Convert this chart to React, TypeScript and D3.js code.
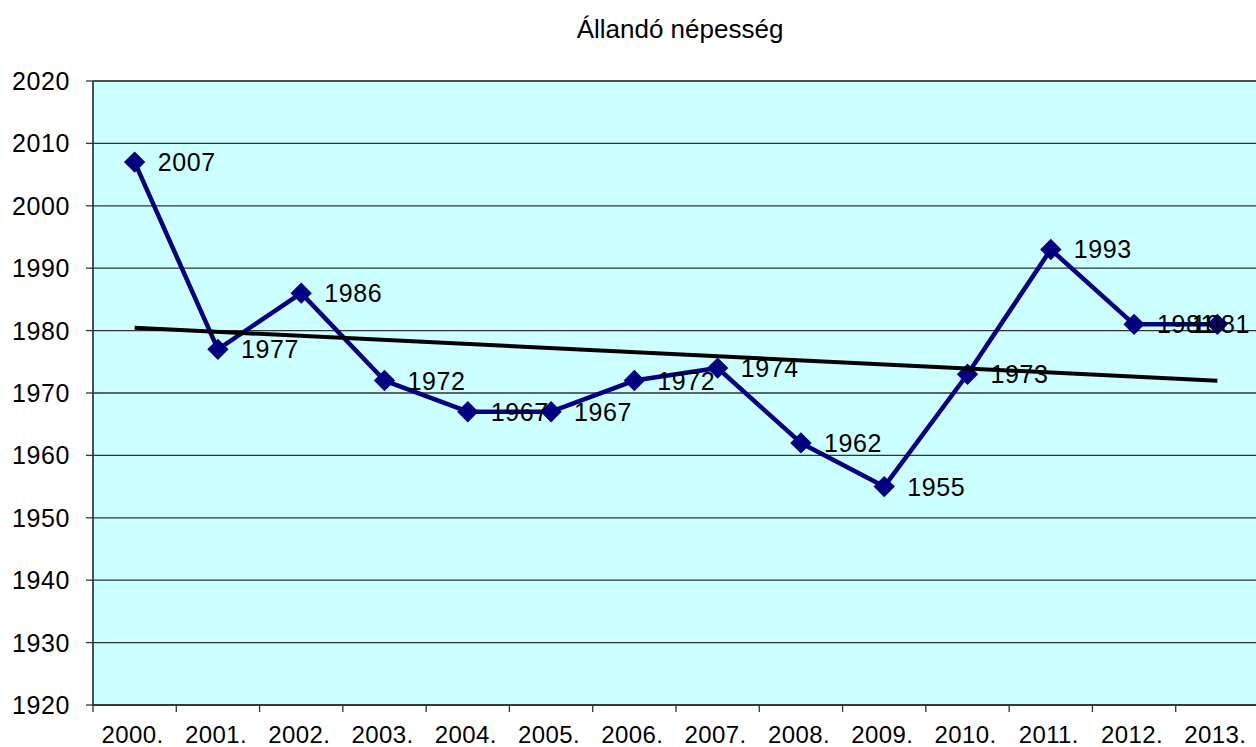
import React from 'react';
import * as d3 from 'd3';

const years = ['2000.', '2001.', '2002.', '2003.', '2004.', '2005.', '2006.', '2007.', '2008.', '2009.', '2010.', '2011.', '2012.', '2013.'];
const population = [2007, 1977, 1986, 1972, 1967, 1967, 1972, 1974, 1962, 1955, 1973, 1993, 1981, 1981];
const yTicks = [1920, 1930, 1940, 1950, 1960, 1970, 1980, 1990, 2000, 2010, 2020];
const title = 'Állandó népesség';

const W = 1256, H = 747;
const margin = {left: 93, top: 81, right: 1259, bottom: 705};
const font = 'Liberation Sans, Arial, sans-serif';

const App = () => {
    const x = d3.scaleBand<string>().domain(years).range([margin.left, margin.right]);
    const y = d3.scaleLinear().domain([1920, 2020]).range([margin.bottom, margin.top]);
    const cx = (i: number) => (x(years[i]) as number) + x.bandwidth() / 2;

    // linear trend through the points
    const n = population.length;
    const idx = d3.range(n);
    const mx = d3.mean(idx) as number, my = d3.mean(population) as number;
    const slope = d3.sum(idx, i => (i - mx) * (population[i] - my)) / d3.sum(idx, i => (i - mx) * (i - mx));
    const trend = (i: number) => my + slope * (i - mx);

    const line = d3.line<number>().x((d, i) => cx(i)).y(d => y(d));
    const diamond = d3.symbol().type(d3.symbolDiamond2).size(290)();

    // labels sit right of the point, pulled back inside the chart when they would run off
    const labelW = 60;
    const labelX = (i: number) => Math.min(cx(i) + 23, W - 4 - labelW);

    return (
        <svg width={W} height={H} style={{position: 'absolute', left: 0, top: 0}} fontFamily={font}>
            <rect x={0} y={0} width={W} height={H} fill="#fff"/>
            <text x={680} y={38} textAnchor="middle" fontSize={26} fill="#000">{title}</text>
            <rect x={margin.left} y={margin.top} width={margin.right - margin.left} height={margin.bottom - margin.top}
                  fill="#ccffff" stroke="#808080" strokeWidth={1.5}/>
            {yTicks.map(t => (
                <g key={t}>
                    <line x1={margin.left} x2={margin.right} y1={y(t)} y2={y(t)} stroke="#333" strokeWidth={1.3}/>
                    <line x1={margin.left - 7} x2={margin.left} y1={y(t)} y2={y(t)} stroke="#333" strokeWidth={1.3}/>
                    <text x={70} y={y(t) + 9} textAnchor="end" fontSize={25} letterSpacing={0.6} fill="#000">{t}</text>
                </g>
            ))}
            <line x1={margin.left} x2={margin.left} y1={margin.top} y2={margin.bottom} stroke="#333" strokeWidth={1.5}/>
            <line x1={margin.left} x2={margin.right} y1={margin.bottom} y2={margin.bottom} stroke="#333" strokeWidth={1.5}/>
            {years.map((yr, i) => (
                <g key={yr}>
                    <line x1={x(yr) as number} x2={x(yr) as number} y1={margin.bottom} y2={margin.bottom + 7} stroke="#333" strokeWidth={1.3}/>
                    <text x={cx(i) - 2} y={743} textAnchor="middle" fontSize={24} letterSpacing={0.4} fill="#000">{yr}</text>
                </g>
            ))}
            <path d={line(population) as string} fill="none" stroke="#000080" strokeWidth={4.5} strokeLinejoin="round"/>
            {population.map((v, i) => (
                <path key={i} d={diamond as string} transform={`translate(${cx(i)},${y(v)})`} fill="#000080"/>
            ))}
            <line x1={cx(0)} y1={y(trend(0))} x2={cx(n - 1)} y2={y(trend(n - 1))} stroke="#000" strokeWidth={4}/>
            {population.map((v, i) => (
                <text key={'l' + i} x={labelX(i)} y={y(v) + 9} fontSize={25} letterSpacing={0.6} fill="#000">{v}</text>
            ))}
        </svg>
    );
};

export default App;
